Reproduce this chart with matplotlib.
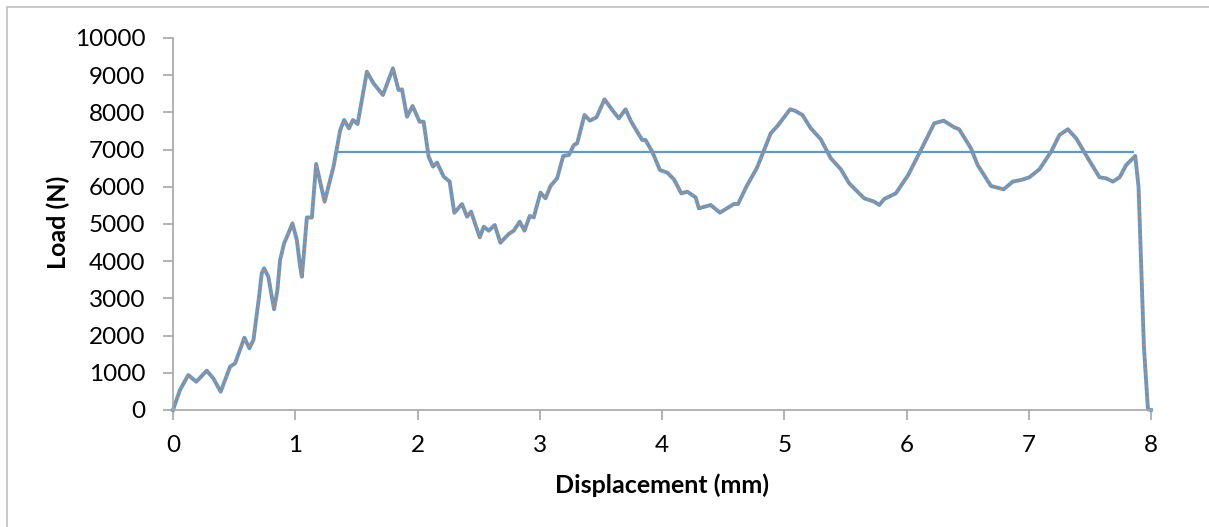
import numpy as np
import matplotlib.pyplot as plt
from matplotlib.patches import Rectangle

# load-displacement curve, values
displacement = [0.0, 0.057, 0.125, 0.19, 0.276, 0.33, 0.39, 0.467, 0.508, 0.584, 0.625, 0.658,
                0.704, 0.726, 0.745, 0.78, 0.808, 0.827, 0.854, 0.876, 0.909, 0.944, 0.977,
                1.013, 1.04, 1.054, 1.073, 1.095, 1.136, 1.171,
                1.24, 1.313, 1.368, 1.40, 1.439, 1.472, 1.51, 1.586, 1.64, 1.717, 1.799,
                1.845, 1.873, 1.914, 1.96, 2.017, 2.05, 2.091, 2.127, 2.16, 2.214, 2.263,
                2.301, 2.364, 2.405, 2.438, 2.509, 2.542, 2.583, 2.632, 2.678, 2.746, 2.787,
                2.836, 2.875, 2.918, 2.951, 3.006, 3.047, 3.088, 3.142, 3.192, 3.238, 3.279,
                3.306, 3.366, 3.41, 3.464, 3.53, 3.593, 3.647, 3.702, 3.748, 3.838, 3.865,
                3.92, 3.983, 4.043, 4.098, 4.158, 4.207, 4.275, 4.302, 4.398, 4.474, 4.589,
                4.622, 4.693, 4.775, 4.83, 4.889, 4.944, 5.048, 5.086, 5.149, 5.217, 5.299,
                5.381, 5.463, 5.531, 5.599, 5.654, 5.736, 5.777, 5.818, 5.913, 6.014, 6.118,
                6.227, 6.304, 6.39, 6.431, 6.527, 6.582, 6.691, 6.795, 6.869, 6.937, 7.005,
                7.087, 7.183, 7.251, 7.32, 7.388, 7.484, 7.579, 7.633, 7.688, 7.743, 7.797,
                7.871, 7.898, 7.92, 7.942, 7.975, 8.0]
load = [0, 538, 940, 760, 1057, 850, 492, 1165, 1255, 1944, 1658, 1882,
        3047, 3675, 3808, 3584, 3047, 2707, 3225, 4032, 4480, 4750, 5017,
        4570, 3853, 3584, 4300, 5175, 5175, 6613,
        5600, 6543, 7527, 7796, 7572, 7796, 7688, 9094, 8782, 8468, 9185,
        8602, 8620, 7885, 8172, 7750, 7750, 6810, 6543, 6650, 6274, 6140,
        5300, 5538, 5197, 5332, 4642, 4928, 4820, 4973, 4497, 4731, 4820,
        5063, 4820, 5215, 5179, 5843, 5690, 6022, 6228, 6828, 6855, 7124,
        7168, 7930, 7778, 7868, 8352, 8065, 7840, 8083, 7750, 7258, 7258,
        6944, 6452, 6380, 6200, 5823, 5868, 5717, 5421, 5511, 5305, 5538,
        5538, 6022, 6497, 6944, 7437, 7634, 8083, 8047, 7930, 7572, 7276,
        6766, 6470, 6094, 5868, 5690, 5600, 5511, 5672, 5825, 6317, 6989,
        7706, 7778, 7600, 7546, 7035, 6586, 6022, 5932, 6140, 6183, 6255,
        6470, 6944, 7392, 7546, 7303, 6766, 6255, 6228, 6140, 6255, 6586,
        6828, 6005, 3853, 1702, 18, 0]

# horizontal reference line
avg_x = [1.34, 7.865]
avg_load = [6930, 6930]

blue = '#5B9BD5'
orange = '#ED7D31'
grey = '#A6A6A6'

plt.rcParams['font.family'] = ['Lato', 'DejaVu Sans']

fig = plt.figure(figsize=(12.09, 5.27), dpi=100)
ax = fig.add_axes([173 / 1209, 1 - 410 / 527, (1151 - 173) / 1209, (410 - 38) / 527])

# chart area border (right and bottom edges fall outside the image)
fig.patches.append(Rectangle((7 / 1209, -0.5), 1.5, 1.5 - 7 / 527, transform=fig.transFigure,
                             fill=False, edgecolor='#BFBFBF', linewidth=1.2))

ax.plot(avg_x, avg_load, color=blue, linewidth=1.6, solid_capstyle='butt')
ax.plot(displacement, load, color=blue, linewidth=2.8, solid_joinstyle='round',
        clip_on=False)
ax.plot(displacement, load, color=orange, linewidth=1.4, linestyle=(0, (1.2, 1.8)),
        clip_on=False)

ax.set_xlim(0, 8)
ax.set_ylim(0, 10000)
ax.set_xticks(range(0, 9))
ax.set_yticks(range(0, 10001, 1000))

for side in ['top', 'right']:
    ax.spines[side].set_visible(False)
for side in ['left', 'bottom']:
    ax.spines[side].set_color(grey)
    ax.spines[side].set_linewidth(1.2)
ax.tick_params(axis='both', colors=grey, length=7, width=1.2, labelsize=17.5,
               labelcolor='black')
ax.tick_params(axis='y', pad=13)
ax.tick_params(axis='x', pad=11)

ax.set_xlabel('Displacement (mm)', fontsize=18, fontweight='bold')
ax.set_ylabel('Load (N)', fontsize=18, fontweight='bold')
ax.xaxis.set_label_coords(0.5, -0.2016, transform=ax.transAxes)
ax.yaxis.set_label_coords(-0.1176, 0.505, transform=ax.transAxes)
ax.xaxis.label.set_va('center')
ax.yaxis.label.set_va('center')

fig.savefig('out.png', dpi=100)
